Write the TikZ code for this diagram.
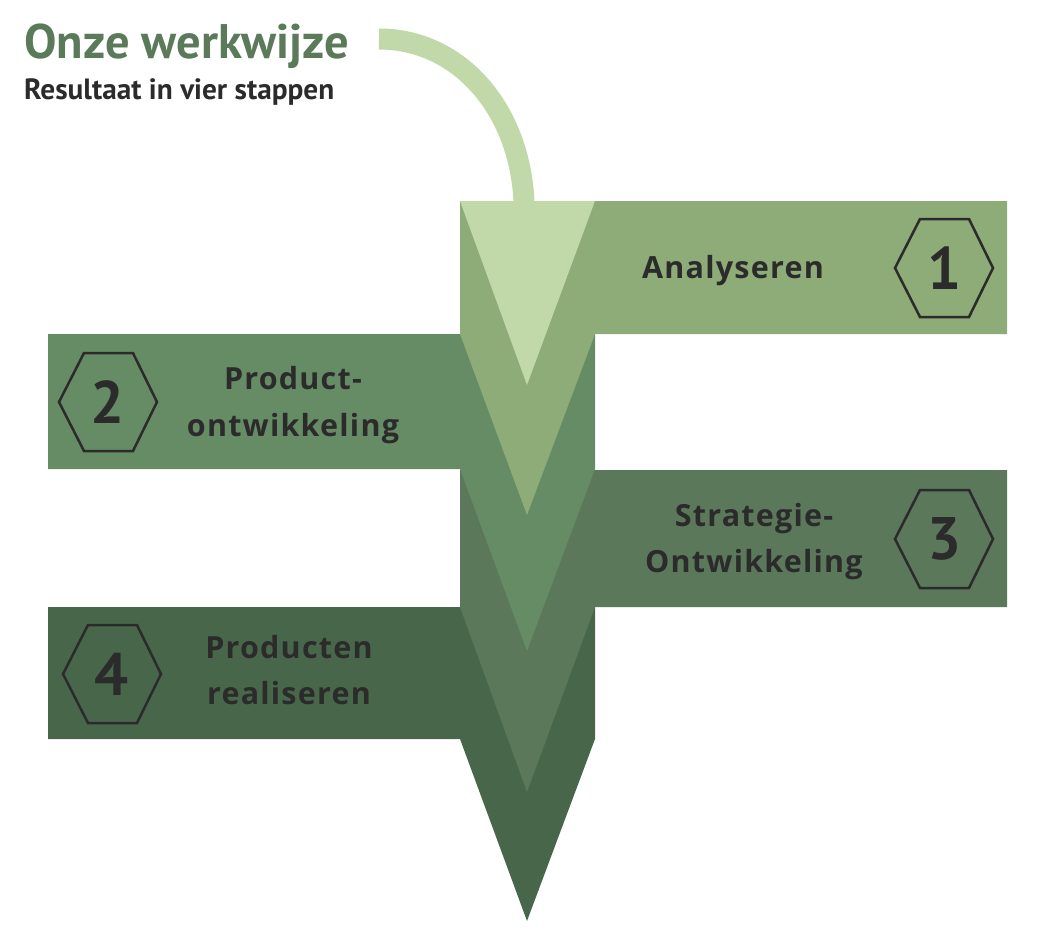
\documentclass[tikz,border=0pt]{standalone}
\usepackage{fontspec}
\setmainfont{Open Sans}
\newfontfamily\ptsans{PT Sans}
\newfontfamily\labelfont{Open Sans}[LetterSpace=4]
\definecolor{cLight}{HTML}{C1D9A9}
\definecolor{cOne}{HTML}{8DAC78}
\definecolor{cTwo}{HTML}{668C66}
\definecolor{cThree}{HTML}{5B785B}
\definecolor{cFour}{HTML}{48674A}
\definecolor{cTitle}{HTML}{5A7A5A}
\definecolor{cText}{HTML}{2B2B2B}
\tikzset{
  band/.style={draw=none},
  hexline/.style={draw=cText, line width=2.5pt, line join=miter},
  numtext/.style={text=cText, font=\ptsans\bfseries\fontsize{60}{60}\selectfont, inner sep=0pt},
  lbl/.style={text=cText, font=\labelfont\bfseries\fontsize{30.5}{30.5}\selectfont, inner sep=0pt, anchor=base},
  arcline/.style={draw=cLight, line width=21pt, line cap=butt}
}
\newcommand\hexagonat[1]{%
  \draw[hexline] (#1) ++(-49,0) -- ++(25,-49) -- ++(49,0) -- ++(24,49) -- ++(-24,49) -- ++(-49,0) -- cycle;}
\begin{document}
\begin{tikzpicture}[x=1pt,y=-1pt]
\useasboundingbox (0,0) rectangle (1049,932);
% bands, bottom first
\fill[cFour] (48,607) -- (595,607) -- (595,739) -- (527,921) -- (460,739) -- (48,739) -- cycle;
\fill[cThree] (460,470) -- (1007,470) -- (1007,607) -- (595,607) -- (527,792) -- (460,607) -- cycle;
\fill[cTwo] (48,334) -- (595,334) -- (595,469) -- (527,651) -- (460,469) -- (48,469) -- cycle;
\fill[cOne] (460,201) -- (1007,201) -- (1007,334) -- (595,334) -- (527,515) -- (460,334) -- cycle;
\fill[cLight] (460,201) -- (595,201) -- (527,385) -- cycle;
% curved arrow
\coordinate (arcstart) at (379,39);
\coordinate (tritop) at (524,202);
\draw[arcline] (arcstart) .. controls (460,39) and (520,110) .. (tritop);
% title
\node[anchor=base west, inner sep=0pt, text=cTitle, font=\ptsans\bfseries\fontsize{48.5}{48.5}\selectfont] (title) at (24,58) {Onze werkwijze};
\node[anchor=base west, inner sep=0pt, text=cText, font=\ptsans\bfseries\fontsize{29.3}{29.3}\selectfont] (subtitle) at (24,99) {Resultaat in vier stappen};
% hexagons
\coordinate (h1) at (944,268);
\coordinate (h2) at (108,402);
\coordinate (h3) at (944,539);
\coordinate (h4) at (112,674);
\hexagonat{h1}\hexagonat{h2}\hexagonat{h3}\hexagonat{h4}
\node[numtext] (n1) at (h1) {1};
\node[numtext] (n2) at (h2) {2};
\node[numtext] (n3) at (h3) {3};
\node[numtext] (n4) at (h4) {4};
% labels
\node[lbl] (l1) at (733,278) {Analyseren};
\node[lbl] (l2a) at (293,389) {Product-};
\node[lbl] (l2b) at (293,436) {ontwikkeling};
\node[lbl] (l3a) at (754,526) {Strategie-};
\node[lbl] (l3b) at (754,572) {Ontwikkeling};
\node[lbl] (l4a) at (289,658) {Producten};
\node[lbl] (l4b) at (289,704) {realiseren};
\end{tikzpicture}
\end{document}
